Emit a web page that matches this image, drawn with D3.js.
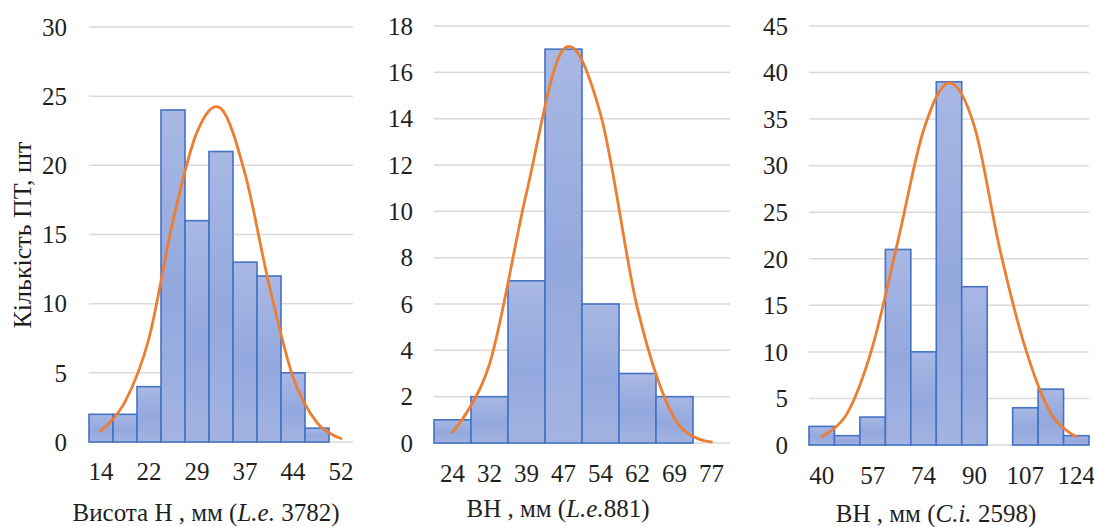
<!DOCTYPE html>
<html><head><meta charset="utf-8">
<script src="https://cdn.jsdelivr.net/npm/d3@7"></script>
<style>
html,body{margin:0;padding:0;background:#fff;}
svg{display:block;}
text{font-family:"Liberation Serif","Times New Roman",serif;fill:#1f1f1f;}
</style></head>
<body>
<svg id="chart" width="1094" height="527"></svg>
<script>
// ---------- DATA ----------
const counts1 = [2, 2, 4, 24, 16, 21, 13, 12, 5, 1, 0];
const curve1  = [0.8, 2.9, 7.5, 16.0, 22.4, 24.1, 19.4, 11.4, 4.7, 1.4, 0.25];
const labels1 = ["14", "", "22", "", "29", "", "37", "", "44", "", "52"];
const yTicks1 = [0, 5, 10, 15, 20, 25, 30];

const counts2 = [1, 2, 7, 17, 6, 3, 2, 0];
const curve2  = [0.47, 3.4, 10.8, 17.0, 14.2, 5.8, 1.05, 0.05];
const labels2 = ["24", "32", "39", "47", "54", "62", "69", "77"];
const yTicks2 = [0, 2, 4, 6, 8, 10, 12, 14, 16, 18];

const counts3 = [2, 1, 3, 21, 10, 39, 17, 0, 4, 6, 1];
const curve3  = [0.9, 3.4, 10.6, 22.0, 33.8, 38.9, 34.2, 21.0, 10.4, 3.4, 0.9];
const labels3 = ["40", "", "57", "", "74", "", "90", "", "107", "", "124"];
const yTicks3 = [0, 5, 10, 15, 20, 25, 30, 35, 40, 45];

const yAxisTitle = "Кількість ПТ, шт";
const xTitle1 = [["Висота Н , мм (", false], ["L.e.", true], [" 3782)", false]];
const xTitle2 = [["ВН , мм (", false], ["L.e.", true], ["881)", false]];
const xTitle3 = [["ВН , мм (", false], ["C.i.", true], [" 2598)", false]];

// ---------- DRAW ----------
const svg = d3.select("#chart");
const defs = svg.append("defs");
const grad = defs.append("linearGradient").attr("id", "barGrad")
  .attr("x1", 0).attr("y1", 0).attr("x2", 0).attr("y2", 1);
grad.append("stop").attr("offset", "0%").attr("stop-color", "#a9b8e4");
grad.append("stop").attr("offset", "55%").attr("stop-color", "#93a8dd");
grad.append("stop").attr("offset", "100%").attr("stop-color", "#a3b3e2");

function panel(p) {
  const g = svg.append("g");
  const x = d3.scaleBand().domain(d3.range(p.counts.length)).range([p.x0, p.x1]).padding(0);
  const y = d3.scaleLinear().domain([0, d3.max(p.yTicks)]).range([p.yBottom, p.yTop]);

  g.append("g").selectAll("line").data(p.yTicks).join("line")
    .attr("x1", p.x0).attr("x2", p.x1)
    .attr("y1", d => y(d)).attr("y2", d => y(d))
    .attr("stroke", "#d9d9d9").attr("stroke-width", 1.5);

  g.append("g").selectAll("text").data(p.yTicks).join("text")
    .attr("x", p.yLabelX).attr("y", d => y(d))
    .attr("dy", "0.35em").attr("text-anchor", "end")
    .attr("font-size", 25).text(d => d);

  g.append("g").selectAll("rect").data(p.counts.map((v, i) => ({v, i})).filter(d => d.v > 0)).join("rect")
    .attr("x", d => x(d.i)).attr("width", x.bandwidth())
    .attr("y", d => y(d.v)).attr("height", d => y(0) - y(d.v))
    .attr("fill", "url(#barGrad)").attr("stroke", "#4472c4").attr("stroke-width", 1.6);

  const line = d3.line()
    .x((d, i) => x(i) + x.bandwidth() / 2)
    .y(d => y(d))
    .curve(d3.curveCatmullRom.alpha(0));
  g.append("path").datum(p.curve).attr("d", line)
    .attr("fill", "none").attr("stroke", "#ed7d31").attr("stroke-width", 2.8)
    .attr("stroke-linecap", "round");

  g.append("g").selectAll("text").data(p.labels).join("text")
    .attr("x", (d, i) => x(i) + x.bandwidth() / 2)
    .attr("y", p.xLabelY).attr("dy", "0.35em")
    .attr("text-anchor", "middle").attr("font-size", 25).text(d => d);

  const t = g.append("text").attr("x", p.titleX).attr("y", p.titleY)
    .attr("text-anchor", "middle").attr("font-size", 25);
  p.title.forEach(([s, it]) => {
    t.append("tspan").attr("font-style", it ? "italic" : "normal").text(s);
  });
}

panel({counts: counts1, curve: curve1, labels: labels1, yTicks: yTicks1,
  x0: 89, x1: 353, yBottom: 442, yTop: 27, yLabelX: 67, xLabelY: 471,
  title: xTitle1, titleX: 206, titleY: 521});
panel({counts: counts2, curve: curve2, labels: labels2, yTicks: yTicks2,
  x0: 434, x1: 730, yBottom: 443, yTop: 26, yLabelX: 413, xLabelY: 473,
  title: xTitle2, titleX: 558, titleY: 517});
panel({counts: counts3, curve: curve3, labels: labels3, yTicks: yTicks3,
  x0: 809, x1: 1089, yBottom: 445, yTop: 26, yLabelX: 788, xLabelY: 475,
  title: xTitle3, titleX: 936, titleY: 522});

svg.append("text")
  .attr("transform", "translate(31,235) rotate(-90)")
  .attr("text-anchor", "middle").attr("font-size", 26)
  .text(yAxisTitle);
</script>
</body></html>
